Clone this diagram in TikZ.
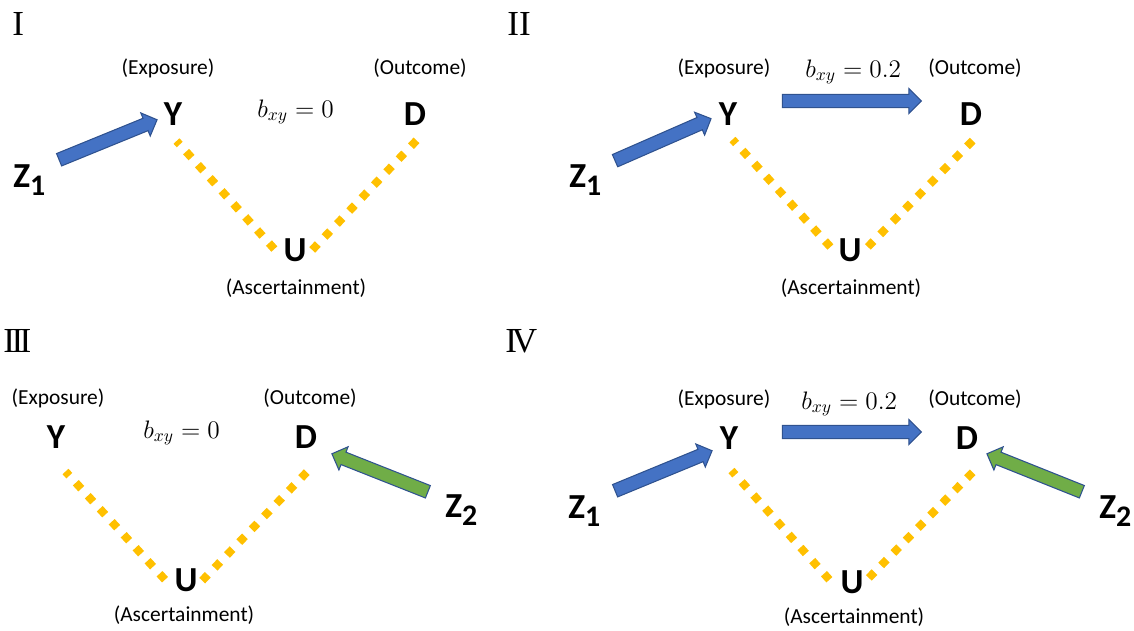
\documentclass[tikz,border=0pt]{standalone}
\usepackage{fontspec}
\setmainfont{Carlito}
\newfontfamily\romfont{Liberation Serif}
\usetikzlibrary{shapes.arrows,calc}
\definecolor{oblue}{HTML}{4472C4}
\definecolor{obline}{HTML}{2F528F}
\definecolor{ogreen}{HTML}{70AD47}
\definecolor{oyellow}{HTML}{FFC000}
\tikzset{
  lbl/.style={font=\fontsize{12.2}{14}\selectfont, inner sep=0pt},
  var/.style={font=\fontsize{20}{24}\selectfont\bfseries, inner sep=0pt, anchor=base},
  zvar/.style={font=\fontsize{20}{24}\selectfont\bfseries, inner sep=0pt, anchor=base west},
  rom/.style={font=\fontsize{20}{24}\selectfont\romfont, inner sep=0pt, anchor=base west},
  eff/.style={font=\fontsize{14.5}{16}\selectfont, inner sep=0pt, anchor=base west},
  ydot/.style={draw=oyellow, line width=4.6pt},
  barrow/.style={single arrow, draw=obline, fill=oblue, line width=0.6pt,
    inner xsep=0pt, inner ysep=3.5pt, single arrow head extend=3.3pt,
    single arrow head indent=0pt, outer sep=0pt},
  garrow/.style={barrow, fill=ogreen},
}
\newcommand\blockarrow[3]{%
  \path let \p1=($(#3)-(#2)$), \n1={atan2(\y1,\x1)}, \n2={veclen(\x1,\y1)} in
    node[#1, minimum height=\n2, rotate=\n1] at ($(#2)!0.5!(#3)$) {};}
% #1 first dot centre (U side), #2 last full dot centre, #3 number of full dots, #4 end point
\newcommand\ydots[4]{%
  \path let \p1=($(#2)-(#1)$), \n1={veclen(\x1,\y1)/(#3-1)-4.6} in \pgfextra{\xdef\yoff{\n1}};
  \draw[ydot, dash pattern=on 4.6pt off \yoff] ($(#1)!-2.3pt!(#2)$) -- #4;}
\newcommand\zsub[1]{Z\raisebox{-5pt}{\fontsize{17}{17}\selectfont #1}}
\begin{document}
\begin{tikzpicture}[x=0.02cm,y=-0.02cm]
\useasboundingbox (0,0) rectangle (1134,630);
% ---------- Panel I ----------
\node[rom] (r1) at (12,35) {I};
\node[lbl] (e1) at (168,68) {(Exposure)};
\node[lbl] (o1) at (420,68) {(Outcome)};
\node[var] (Y1) at (173,125) {Y};
\node[var] (D1) at (415,125) {D};
\node[var] (U1) at (295,261) {U};
\node[lbl] (a1) at (296,288) {(Ascertainment)};
\node[eff] (b1) at (257,117) {$b_{xy}=0$};
\node[zvar] (Z1a) at (13,187) {\zsub{1}};
\coordinate (z1t) at (56,161); \coordinate (z1h) at (154,121);
\blockarrow{barrow}{z1t}{z1h}
\coordinate (u1l) at (271.7,246); \coordinate (y1l) at (190,153.3); \coordinate (y1e) at (176.5,141);
\coordinate (u1r) at (315,247); \coordinate (d1r) at (414,143);
\ydots{u1l}{y1l}{8}{(y1e)}
\ydots{u1r}{d1r}{9}{($(d1r)!-2.3pt!(u1r)$)}
% ---------- Panel II ----------
\node[rom] (r2) at (507,35) {II};
\node[lbl] (e2) at (724,68) {(Exposure)};
\node[lbl] (o2) at (975,68) {(Outcome)};
\node[var] (Y2) at (728,125) {Y};
\node[var] (D2) at (971,125) {D};
\node[var] (U2) at (850,261) {U};
\node[lbl] (a2) at (851,288) {(Ascertainment)};
\node[eff] (b2) at (805,77) {$b_{xy}=0.2$};
\node[zvar] (Z1b) at (569,187) {\zsub{1}};
\coordinate (z2t) at (612,162); \coordinate (z2h) at (708,120);
\blockarrow{barrow}{z2t}{z2h}
\coordinate (yd2t) at (779,101); \coordinate (yd2h) at (918,101);
\blockarrow{barrow}{yd2t}{yd2h}
\coordinate (u2l) at (827.7,244); \coordinate (y2l) at (745,153.3); \coordinate (y2e) at (732.5,139.5);
\coordinate (u2r) at (870.7,244); \coordinate (d2r) at (970,143.3);
\ydots{u2l}{y2l}{8}{(y2e)}
\ydots{u2r}{d2r}{9}{($(d2r)!-2.3pt!(u2r)$)}
% ---------- Panel III ----------
\node[rom] (r3) at (3,352) {I\kern-2pt I\kern-2pt I};
\node[lbl] (e3) at (58,398) {(Exposure)};
\node[lbl] (o3) at (310,398) {(Outcome)};
\node[var] (Y3) at (56,448) {Y};
\node[var] (D3) at (306,448) {D};
\node[var] (U3) at (186,591) {U};
\node[lbl] (a3) at (184,615) {(Ascertainment)};
\node[eff] (b3) at (143,438) {$b_{xy}=0$};
\node[zvar] (Z2c) at (445,517) {\zsub{2}};
\coordinate (g3t) at (431,493); \coordinate (g3h) at (335,455);
\blockarrow{garrow}{g3t}{g3h}
\coordinate (u3l) at (162.3,576.7); \coordinate (y3l) at (79,485); \coordinate (y3e) at (65.5,471.5);
\coordinate (u3r) at (205,577.7); \coordinate (d3r) at (304,475);
\ydots{u3l}{y3l}{8}{(y3e)}
\ydots{u3r}{d3r}{9}{($(d3r)!-2.3pt!(u3r)$)}
% ---------- Panel IV ----------
\node[rom] (r4) at (505,352) {I\kern-3pt V};
\node[lbl] (e4) at (724,399) {(Exposure)};
\node[lbl] (o4) at (975,399) {(Outcome)};
\node[var] (Y4) at (729,449) {Y};
\node[var] (D4) at (967,449) {D};
\node[var] (U4) at (852,593) {U};
\node[lbl] (a4) at (854,617) {(Ascertainment)};
\node[eff] (b4) at (801,409) {$b_{xy}=0.2$};
\node[zvar] (Z1d) at (568,518) {\zsub{1}};
\node[zvar] (Z2d) at (1099,518) {\zsub{2}};
\coordinate (z4t) at (612,492); \coordinate (z4h) at (709,452);
\blockarrow{barrow}{z4t}{z4h}
\coordinate (yd4t) at (779,432); \coordinate (yd4h) at (918,432);
\blockarrow{barrow}{yd4t}{yd4h}
\coordinate (g4t) at (1085,493); \coordinate (g4h) at (990,455);
\blockarrow{garrow}{g4t}{g4h}
\coordinate (u4l) at (826.7,576.7); \coordinate (y4l) at (745,484.3); \coordinate (y4e) at (731.5,470.5);
\coordinate (u4r) at (871.7,575); \coordinate (d4r) at (970,475);
\ydots{u4l}{y4l}{8}{(y4e)}
\ydots{u4r}{d4r}{9}{($(d4r)!-2.3pt!(u4r)$)}
\end{tikzpicture}
\end{document}
